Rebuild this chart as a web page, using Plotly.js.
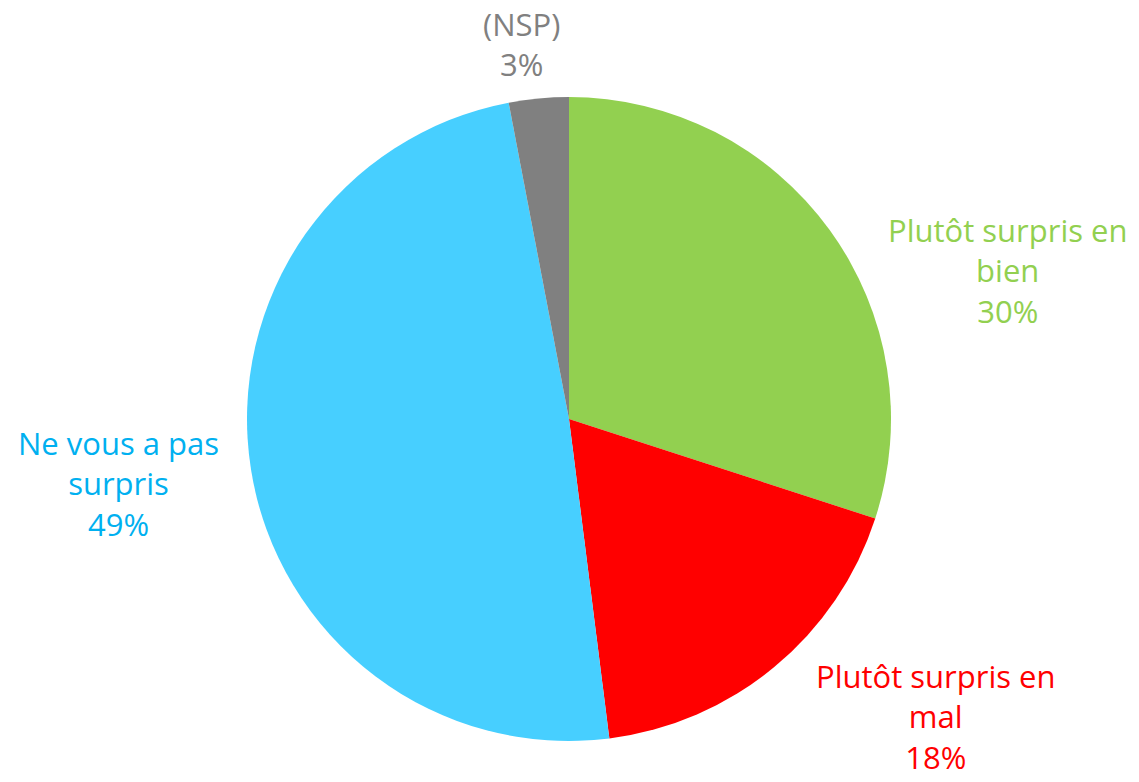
<!DOCTYPE html>
<html>
<head>
<meta charset="utf-8">
<script src="https://cdn.plot.ly/plotly-3.0.1.min.js"></script>
<style>html,body{margin:0;padding:0;background:#fff;}#chart{width:1139px;height:782px;}</style>
</head>
<body>
<div id="chart"></div>
<script>
// Data
const categories = ["Plutôt surpris en bien", "Plutôt surpris en mal", "Ne vous a pas surpris", "(NSP)"];
const displayLabels = ["Plutôt surpris en<br>bien", "Plutôt surpris en<br>mal", "Ne vous a pas<br>surpris", "(NSP)"];
const values = [30, 18, 49, 3];

// Styles
const sliceColors = ["#92D050", "#FF0000", "#47CFFF", "#808080"];
const labelColors = ["#92D050", "#FF0000", "#00B0F0", "#808080"];
// Label anchor positions (paper coords)
const labelPos = [
  {x: 1007 / 1139, y: 1 - 270 / 782},
  {x: 935 / 1139, y: 1 - 716 / 782},
  {x: 118 / 1139, y: 1 - 483 / 782},
  {x: 521 / 1139, y: 1 - 44 / 782}
];

const trace = {
  type: "pie",
  labels: categories,
  values: values,
  sort: false,
  direction: "clockwise",
  rotation: 0,
  marker: {colors: sliceColors, line: {width: 0}},
  textinfo: "none",
  hoverinfo: "label+percent",
  showlegend: false,
  domain: {x: [247 / 1139, 891 / 1139], y: [41 / 782, 685 / 782]}
};

const annotations = categories.map((c, i) => ({
  xref: "paper", yref: "paper",
  x: labelPos[i].x, y: labelPos[i].y,
  xanchor: "center", yanchor: "middle",
  align: "center",
  showarrow: false,
  borderpad: 0,
  text: displayLabels[i] + "<br>" + values[i] + "%",
  font: {family: "Open Sans, sans-serif", size: 31, color: labelColors[i]}
}));

const layout = {
  width: 1139, height: 782,
  margin: {l: 0, r: 0, t: 0, b: 0},
  paper_bgcolor: "#ffffff",
  showlegend: false,
  annotations: annotations
};

Plotly.newPlot("chart", [trace], layout, {displayModeBar: false, staticPlot: true});
</script>
</body>
</html>
